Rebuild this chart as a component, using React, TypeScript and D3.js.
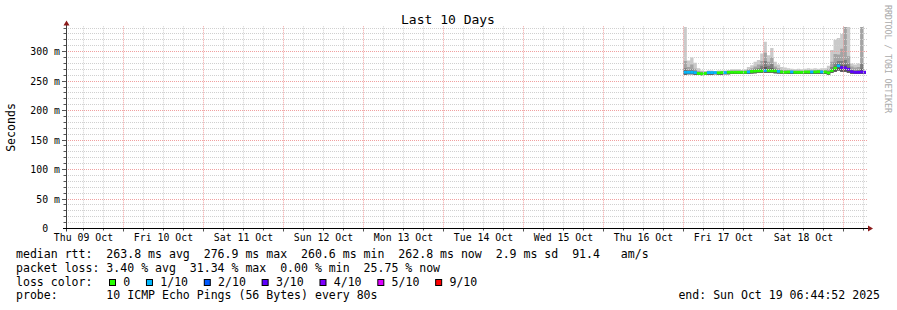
import React from "react";
import * as d3 from "d3";

// ---------- chart text ----------
const title = "Last 10 Days";
const yAxisTitle = "Seconds";
const watermark = "RRDTOOL / TOBI OETIKER";

// ---------- time frame ----------
const startTime = Date.UTC(2025, 9, 9, 6, 44, 52);
const endTime = Date.UTC(2025, 9, 19, 6, 44, 52);
const dataStart = Date.UTC(2025, 9, 17, 0, 0, 0); // hourly samples from here

const dayLabels = ["Thu 09 Oct", "Fri 10 Oct", "Sat 11 Oct", "Sun 12 Oct", "Mon 13 Oct",
  "Tue 14 Oct", "Wed 15 Oct", "Thu 16 Oct", "Fri 17 Oct", "Sat 18 Oct"];
const yTickValues = [0, 50, 100, 150, 200, 250, 300];
const yTickLabels = ["0  ", "50 m", "100 m", "150 m", "200 m", "250 m", "300 m"];

// ---------- series (ms), one value per hour ----------
const median = [265, 265, 265, 264.5, 263, 262.5, 263, 264.5, 264.5, 264.5,
  264, 264.5, 264.5, 265, 265, 265, 265, 265, 265, 265.5,
  266.5, 267, 267.5, 267.5, 268, 268, 267.5, 267.5, 266.5, 265.5,
  265, 265.5, 265.5, 265, 265, 265, 265.5, 265.5, 265.5, 265.5,
  266, 265.5, 265.5, 264, 268, 272, 276, 273, 272.5, 270,
  266, 265, 265, 265.5, 265];
const lossCount = [1, 1, 1, 1, 0, 0, 0, 1, 1, 1,
  0, 0, 1, 0, 0, 0, 0, 0, 0, 1,
  0, 0, 0, 0, 1, 0, 0, 0, 1, 0,
  0, 0, 1, 0, 0, 0, 0, 0, 1, 0,
  0, 1, 0, 0, 0, 0, 1, 3, 3, 3,
  3, 3, 3, 3, 3];
const pingMax = [342, 285, 290, 281, 272, 268, 267, 268, 268, 267,
  268, 268, 268, 269, 270, 270, 270, 269, 270, 274,
  277, 283, 286, 297, 317, 294, 306, 283, 278, 274,
  273, 272, 271, 270, 271, 270, 271, 272, 271, 272,
  271, 272, 272, 276, 303, 320, 323, 330, 342, 342,
  280, 278, 280, 342, 268];
const ping9 = [284, 274, 278, 271, 267, 266.5, 266, 267, 267, 266.5,
  266.5, 266.5, 267, 267, 268, 268, 268, 267.5, 268, 270,
  272, 275, 278, 284, 298, 283, 290, 275, 272, 269.5,
  269, 268.5, 268, 268, 268, 267.5, 268, 268.5, 268, 269,
  268.5, 269, 269, 270, 283, 296, 295, 305, 342, 292,
  275, 273, 274, 342, 266.5];
const ping8 = [272, 269, 270, 267.5, 265, 264.5, 265, 266, 266, 266,
  265.5, 266, 266, 266, 266.5, 266.5, 266.5, 266.5, 266.5, 267.5,
  269, 271, 272, 276, 284, 276, 279, 271, 269, 267.5,
  267, 267, 267, 266.5, 266.5, 266.5, 267, 267, 267, 267,
  267.5, 267, 267, 267, 274, 281, 284, 284, 286, 280,
  269, 268, 269, 280, 266];
const ping7 = [268, 266.5, 267, 266, 264, 263.5, 264, 265, 265, 265,
  265, 265, 265.5, 265.5, 265.5, 265.5, 265.5, 265.5, 266, 266.5,
  267.5, 268.5, 269, 271, 274, 271, 272, 268.5, 267.5, 266.5,
  266, 266, 266, 265.5, 265.5, 265.5, 266, 266, 266, 266,
  266.5, 266, 266, 265, 270, 275, 279, 277, 277, 273,
  267.5, 266.5, 266.5, 271, 265.5];
const pingMin = [261, 261.5, 261.5, 261, 260.5, 260, 260.5, 261, 261, 261.5,
  261, 261, 261.5, 261.5, 262, 262, 262, 262, 262, 262,
  263, 263.5, 264, 264, 264, 264, 264, 263.5, 263, 262.5,
  262, 262, 262, 262, 262, 262, 262, 262, 262, 262,
  262.5, 262, 262, 261, 264, 266, 268, 266, 266, 264,
  262.5, 262, 262, 262, 262];

// ---------- legend ----------
const legendRtt = "median rtt:  263.8 ms avg  276.9 ms max  260.6 ms min  262.8 ms now  2.9 ms sd  91.4   am/s";
const legendLoss = "packet loss: 3.40 % avg  31.34 % max  0.00 % min  25.75 % now";
const legendLossTitle = "loss color:";
const lossLabels = ["0", "1/10", "2/10", "3/10", "4/10", "5/10", "9/10"];
const lossLabelColors = ["#26ff00", "#00b8ff", "#0059ff", "#5e00ff", "#7e00ff", "#dd00ff", "#ff0000"];
const legendProbe = "probe:       10 ICMP Echo Pings (56 Bytes) every 80s";
const legendEnd = "end: Sun Oct 19 06:44:52 2025";

const lossColor = (n: number) =>
  n <= 0 ? "#26ff00" : n === 1 ? "#00b8ff" : n === 2 ? "#0059ff" : n === 3 ? "#5e00ff"
    : n === 4 ? "#7e00ff" : n <= 8 ? "#dd00ff" : "#ff0000";

const MONO = "'DejaVu Sans Mono', monospace";
const PRE: React.CSSProperties = { whiteSpace: "pre" };

export default function App() {
  const left = 66, right = 866, bottom = 228.5, top = 26.3;
  const x = d3.scaleUtc().domain([startTime, endTime]).range([left, right]);
  const y = d3.scaleLinear().domain([0, 343]).range([bottom, top]);

  const hours = median.map((_, i) => d3.utcHour.offset(new Date(dataStart), i).getTime());
  const pts = median.map((m, i) => ({
    t: hours[i], m, loss: lossCount[i], max: pingMax[i], p9: ping9[i], p8: ping8[i], p7: ping7[i], min: pingMin[i],
  }));
  const stepPts = [...pts, { ...pts[pts.length - 1], t: endTime }];

  const band = (key: "max" | "p9" | "p8" | "p7") =>
    d3.area<any>().curve(d3.curveStepAfter).x((d) => x(d.t)).y0((d) => y(d.min)).y1((d) => y(d[key]))(stepPts) || "";

  const crisp = (v: number) => Math.floor(v) + 0.5;

  const hGrid = d3.range(10, 341, 10);
  const vGrid = d3.utcHour.every(6)!.range(new Date(startTime), new Date(endTime)).map((d) => d.getTime());

  const dayNoons = dayLabels.map((_, i) => Date.UTC(2025, 9, 9 + i, 12, 0, 0));

  // legend loss boxes layout (monospace char width)
  const charW = 6.96;
  const boxXs: number[] = [];
  let bx = 109;
  lossLabels.forEach((l) => { boxXs.push(bx); bx += 14.3 + l.length * charW + 15.7; });

  return (
    <svg width={897} height={310} style={{ position: "absolute", left: 0, top: 0, background: "#fff" }}
      fontFamily={MONO}>
      <defs>
        <clipPath id="plotClip"><rect x={left} y={top} width={right - left} height={bottom - top} /></clipPath>
      </defs>
      <rect x={0} y={0} width={897} height={310} fill="#fff" />
      <text x={448} y={24} fontSize={13} textAnchor="middle" fill="#000">{title}</text>
      <text transform={`translate(15.3,127.5) rotate(-90)`} fontSize={11.56} textAnchor="middle" fill="#000">{yAxisTitle}</text>
      <text transform={`translate(885,5) rotate(90)`} fontSize={8.5} fill="#aaaaaa" textLength={108} lengthAdjust="spacing">{watermark}</text>

      {/* smoke + median */}
      <g clipPath="url(#plotClip)">
        <path d={band("max")} fill="#cacaca" />
        <path d={band("p9")} fill="#a4a4a4" />
        <path d={band("p8")} fill="#7e7e7e" />
        <path d={band("p7")} fill="#585858" />
        {pts.map((p, i) => {
          const x0 = x(p.t);
          const x1 = x(i + 1 < pts.length ? pts[i + 1].t : endTime);
          return <rect key={i} x={x0} width={x1 - x0} y={y(p.m) - 1.4} height={2.8} fill={lossColor(p.loss)} />;
        })}
      </g>

      {/* grid on top */}
      <g>
        {hGrid.map((v) => (
          <line key={"h" + v} x1={left} x2={right + 2} y1={crisp(y(v))} y2={crisp(y(v))}
            stroke={v % 50 === 0 ? "#f0a0a0" : "#d0d0d0"} strokeDasharray="1,1" />
        ))}
        {vGrid.map((t) => {
          const major = new Date(t).getUTCHours() === 0;
          return <line key={"v" + t} x1={crisp(x(t))} x2={crisp(x(t))} y1={top} y2={bottom}
            stroke={major ? "#f0a0a0" : "#d0d0d0"} strokeDasharray="1,1" />;
        })}
      </g>

      {/* ticks */}
      {hGrid.map((v) => (
        <line key={"yt" + v} x1={v % 50 === 0 ? 62 : 63.5} x2={66} y1={crisp(y(v))} y2={crisp(y(v))} stroke="#555" />
      ))}
      {vGrid.map((t) => {
        const major = new Date(t).getUTCHours() === 0;
        return <line key={"xt" + t} x1={crisp(x(t))} x2={crisp(x(t))} y1={bottom} y2={bottom + (major ? 3 : 2)} stroke="#555" />;
      })}

      {/* axes */}
      <line x1={left + 0.5} x2={left + 0.5} y1={bottom + 3} y2={24} stroke="#404040" />
      <line x1={left - 3} x2={868} y1={bottom} y2={bottom} stroke="#000" />
      <path d={`M${left + 0.5},${20.5} L${left + 3.5},${25.5} L${left - 2.5},${25.5} Z`} fill="#8b1a1a" />
      <path d={`M${873},${bottom} L${868},${bottom - 3} L${868},${bottom + 3} Z`} fill="#8b1a1a" />

      {/* y tick labels */}
      {yTickValues.map((v, i) => (
        <text key={"yl" + v} x={60} y={y(v) + 3.6} fontSize={9.85} textAnchor="end" fill="#000"
          xmlSpace="preserve" style={PRE}>{yTickLabels[i]}</text>
      ))}
      {/* x labels */}
      {dayLabels.map((l, i) => (
        <text key={l} x={x(dayNoons[i])} y={240.5} fontSize={9.85} textAnchor="middle" fill="#000">{l}</text>
      ))}

      {/* legend */}
      <g fontSize={11.56} fill="#000">
        <text x={16} y={258.3} xmlSpace="preserve" style={PRE}>{legendRtt}</text>
        <text x={16} y={272} xmlSpace="preserve" style={PRE}>{legendLoss}</text>
        <text x={16} y={285.7} xmlSpace="preserve" style={PRE}>{legendLossTitle}</text>
        {lossLabels.map((l, i) => (
          <g key={l}>
            <rect x={boxXs[i] + 0.5} y={279.5} width={6} height={6} fill={lossLabelColors[i]} stroke="#000" strokeWidth={1} />
            <text x={boxXs[i] + 14.3} y={285.7}>{l}</text>
          </g>
        ))}
        <text x={16} y={299.4} xmlSpace="preserve" style={PRE}>{legendProbe}</text>
        <text x={880} y={299.4} textAnchor="end" xmlSpace="preserve" style={PRE}>{legendEnd}</text>
      </g>
    </svg>
  );
}
